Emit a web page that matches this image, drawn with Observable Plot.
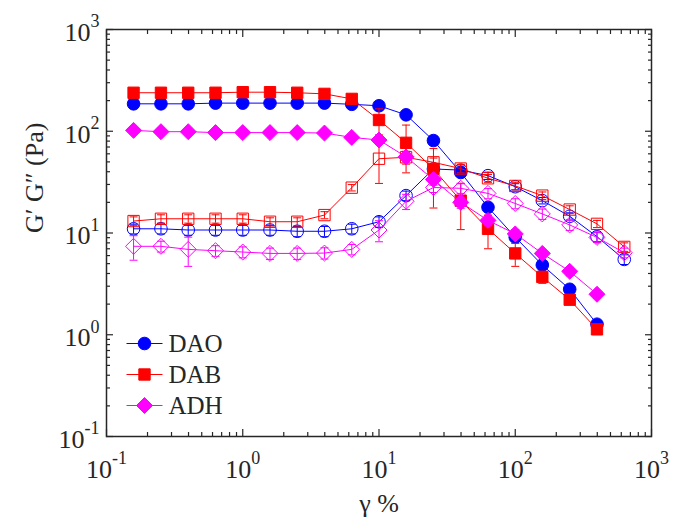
<!DOCTYPE html>
<html>
<head>
<meta charset="utf-8">
<script src="https://cdn.jsdelivr.net/npm/d3@7"></script>
<script src="https://cdn.jsdelivr.net/npm/@observablehq/plot@0.6"></script>
<style>
  html, body { margin: 0; padding: 0; background: #fff; }
  #chart svg { display: block; }
  html body div#chart svg[class] g[font-family] text, html body div#chart svg text[x], html body div#chart svg text {
    font-family: "Liberation Serif", "Times New Roman", Tinos, serif !important;
  }
</style>
</head>
<body>
<div id="chart"></div>
<script>
// ---- data ----
const strain = [0.158, 0.251, 0.398, 0.631, 1, 1.585, 2.51, 3.98, 6.31, 10, 15.8, 25.1, 39.8, 63.1, 100, 158, 251, 398, 631];

const DAO_Gp      = [186, 186, 186, 189, 189, 189, 189, 189, 184, 178, 145, 81, 39.3, 17.9, 9.1, 4.84, 2.8, 1.27];
const DAO_Gp_err  = [6, 6, 6, 6, 6, 6, 6, 6, 6, 8, 8, 5, 2, 1.5, 0.6, 0.4, 0.2, 0.08];
const DAO_Gpp     = [11.0, 11.0, 10.7, 10.7, 10.7, 10.7, 10.4, 10.4, 11.0, 12.9, 23.3, 42.6, 41.5, 36.6, 28.5, 20.8, 14.6, 9.2, 5.5];
const DAO_Gpp_err = [1.2, 1.2, 1.2, 1.2, 1.2, 1.2, 1.2, 1.2, 1.2, 1.5, 2.5, 4, 4, 3, 2, 1.5, 1.2, 1, 0.6];

const DAB_Gp      = [239, 239, 239, 239, 242, 242, 239, 233, 208, 129, 77, 42.6, 20.8, 11, 6.3, 3.7, 2.21, 1.13];
const DAB_Gp_err  = [10, 10, 10, 10, 10, 10, 10, 10, 10, 37, 38, 25, 10, 4, 1.6, 0.5, 0.2, 0.1];
const DAB_Gpp     = [13.1, 13.8, 13.8, 13.8, 13.8, 12.9, 12.9, 15.0, 27.9, 53.7, 55.5, 49.5, 43, 34.5, 29, 23.3, 17, 12.3, 7.3];
const DAB_Gpp_err = [1.3, 1.3, 1.3, 1.3, 1.3, 1.2, 1.2, 1.2, 2, 23, 8, 5, 4, 3, 2.5, 2, 1.5, 1, 0.7];

const ADH_Gp      = [102, 99, 99, 97, 97, 97, 97, 96, 87, 82, 56, 33.5, 20, 13.3, 9.8, 6.3, 4.2, 2.5];
const ADH_Gp_err  = [6, 6, 6, 6, 6, 6, 6, 6, 6, 8, 6, 4, 2.5, 1.5, 1, 0.6, 0.4, 0.2];
const ADH_Gpp     = [7.4, 7.4, 6.9, 6.7, 6.5, 6.3, 6.3, 6.35, 6.9, 10.7, 20.5, 28, 27.5, 24.5, 19.5, 15.4, 12, 9.05, 6.4];
const ADH_Gpp_err = [2, 0.9, 2.2, 0.8, 0.8, 0.8, 0.8, 0.8, 0.8, 2.5, 3.5, 3, 3, 2.8, 2.2, 1.8, 1.4, 1, 0.7];

const legendNames = ["DAO", "DAB", "ADH"];
const majorTicks = [0.1, 1, 10, 100, 1000];
const xLabel = "γ %";
const yLabel = "G′ G″ (Pa)";

// ---- styling ----
const FONT = "Liberation Serif, Times New Roman, Tinos, serif";
const INK = "#262626";
const BLUE = "#0000ff", RED = "#ff0000", MAG = "#ff00ff";
const W = 673, H = 518;
const mL = 106, mR = 22, mT = 29, mB = 82;

function rows(ys, errs) {
  return ys.map((v, i) => ({x: strain[i], y: v, lo: v - errs[i], hi: v + errs[i]}));
}
const hLine = (w) => ({draw(ctx) { ctx.moveTo(-w, 0); ctx.lineTo(w, 0); }});
const cap = hLine(4);

const series = [
  {color: BLUE, symbol: "circle",   r: 6.3, filled: true,  data: rows(DAO_Gp, DAO_Gp_err)},
  {color: BLUE, symbol: "circle",   r: 6.3, filled: false, data: rows(DAO_Gpp, DAO_Gpp_err)},
  {color: RED,  symbol: "square",   r: 6.4, filled: true,  data: rows(DAB_Gp, DAB_Gp_err)},
  {color: RED,  symbol: "square",   r: 6.4, filled: false, data: rows(DAB_Gpp, DAB_Gpp_err)},
  {color: MAG,  symbol: "diamond2", r: 7.2, filled: true,  data: rows(ADH_Gp, ADH_Gp_err)},
  {color: MAG,  symbol: "diamond2", r: 7.2, filled: false, data: rows(ADH_Gpp, ADH_Gpp_err)}
];

const marks = [];
for (const s of series) {
  marks.push(Plot.line(s.data, {x: "x", y: "y", stroke: s.color, strokeWidth: 1}));
  marks.push(Plot.ruleX(s.data, {x: "x", y1: "lo", y2: "hi", stroke: s.color, strokeWidth: 1}));
  marks.push(Plot.dot(s.data, {x: "x", y: "lo", symbol: cap, r: 3, stroke: s.color, strokeWidth: 1}));
  marks.push(Plot.dot(s.data, {x: "x", y: "hi", symbol: cap, r: 3, stroke: s.color, strokeWidth: 1}));
  marks.push(Plot.dot(s.data, {x: "x", y: "y", symbol: s.symbol, r: s.r,
    fill: s.filled ? s.color : "none", stroke: s.color, strokeWidth: 1}));
}

// minor ticks 2..9 per decade
const minorTicks = [];
for (let e = -1; e < 3; e++) for (let k = 2; k <= 9; k++) minorTicks.push(k * Math.pow(10, e));

const noText = () => "";
for (const anchor of ["bottom", "top"]) {
  marks.push(Plot.axisX({anchor, ticks: majorTicks, tickSize: -7, tickFormat: noText, label: null, stroke: INK, strokeWidth: 1.2}));
  marks.push(Plot.axisX({anchor, ticks: minorTicks, tickSize: -4, tickFormat: noText, label: null, stroke: INK, strokeWidth: 1.2}));
}
for (const anchor of ["left", "right"]) {
  marks.push(Plot.axisY({anchor, ticks: majorTicks, tickSize: -7, tickFormat: noText, label: null, stroke: INK, strokeWidth: 1.2}));
  marks.push(Plot.axisY({anchor, ticks: minorTicks, tickSize: -4, tickFormat: noText, label: null, stroke: INK, strokeWidth: 1.2}));
}
marks.push(Plot.frame({stroke: INK, strokeWidth: 1.5}));

// tick labels: "10" with superscript exponent
const baseSize = 26, expSize = 18;
const expText = (v) => { const e = Math.round(Math.log10(v)); return e < 0 ? "-" + (-e) : String(e); };
const expWidth = (t) => t.length === 1 ? 9 : 15;
for (const v of majorTicks) {
  const et = expText(v), ew = expWidth(et);
  const startDx = -(26 + ew) / 2;
  marks.push(Plot.text([v], {x: d => d, frameAnchor: "bottom", dy: 33, dx: startDx, text: () => "10",
    textAnchor: "start", lineAnchor: "middle", fontSize: baseSize, fontFamily: FONT, fill: INK}));
  marks.push(Plot.text([v], {x: d => d, frameAnchor: "bottom", dy: 22, dx: startDx + 26, text: () => et,
    textAnchor: "start", lineAnchor: "middle", fontSize: expSize, fontFamily: FONT, fill: INK}));
  marks.push(Plot.text([v], {y: d => d, frameAnchor: "left", dx: -7 - ew, dy: 3, text: () => "10",
    textAnchor: "end", lineAnchor: "middle", fontSize: baseSize, fontFamily: FONT, fill: INK}));
  marks.push(Plot.text([v], {y: d => d, frameAnchor: "left", dx: -7, dy: -8, text: () => et,
    textAnchor: "end", lineAnchor: "middle", fontSize: expSize, fontFamily: FONT, fill: INK}));
}

// axis titles
marks.push(Plot.text([xLabel], {frameAnchor: "bottom", dy: 67, text: d => d, lineAnchor: "middle",
  fontSize: 26, fontFamily: FONT, fill: INK}));
marks.push(Plot.text([yLabel], {frameAnchor: "left", dx: -72, rotate: -90, text: d => d, lineAnchor: "middle",
  fontSize: 26, fontFamily: FONT, fill: INK}));

// legend (inside the axes, lower left)
const legendSeries = [series[0], series[2], series[4]];
legendNames.forEach((name, i) => {
  const s = legendSeries[i];
  const dy = 314 + i * 31;
  marks.push(Plot.dot([name], {frameAnchor: "top-left", dx: 38, dy, symbol: hLine(18), r: 3, stroke: s.color, strokeWidth: 1}));
  marks.push(Plot.dot([name], {frameAnchor: "top-left", dx: 38, dy, symbol: s.symbol, r: s.r, fill: s.color, stroke: s.color, strokeWidth: 1}));
  marks.push(Plot.text([name], {frameAnchor: "top-left", dx: 62, dy, text: d => d, textAnchor: "start", lineAnchor: "middle",
    fontSize: 25, fontFamily: FONT, fill: INK}));
});

const chart = Plot.plot({
  width: W, height: H,
  marginLeft: mL, marginRight: mR, marginTop: mT, marginBottom: mB,
  style: {background: "#fff", overflow: "visible"},
  x: {type: "log", domain: [0.1, 1000]},
  y: {type: "log", domain: [0.1, 1000]},
  marks
});
document.getElementById("chart").appendChild(chart);
// force the serif face on every node (inline !important)
function forceFont() {
  for (const el of chart.querySelectorAll("text, g, tspan")) {
    el.setAttribute("font-family", FONT);
    el.style.setProperty("font-family", FONT, "important");
  }
  chart.setAttribute("font-family", FONT);
  chart.style.setProperty("font-family", FONT, "important");
}
forceFont();
requestAnimationFrame(forceFont);
setTimeout(forceFont, 0);
</script>
</body>
</html>
